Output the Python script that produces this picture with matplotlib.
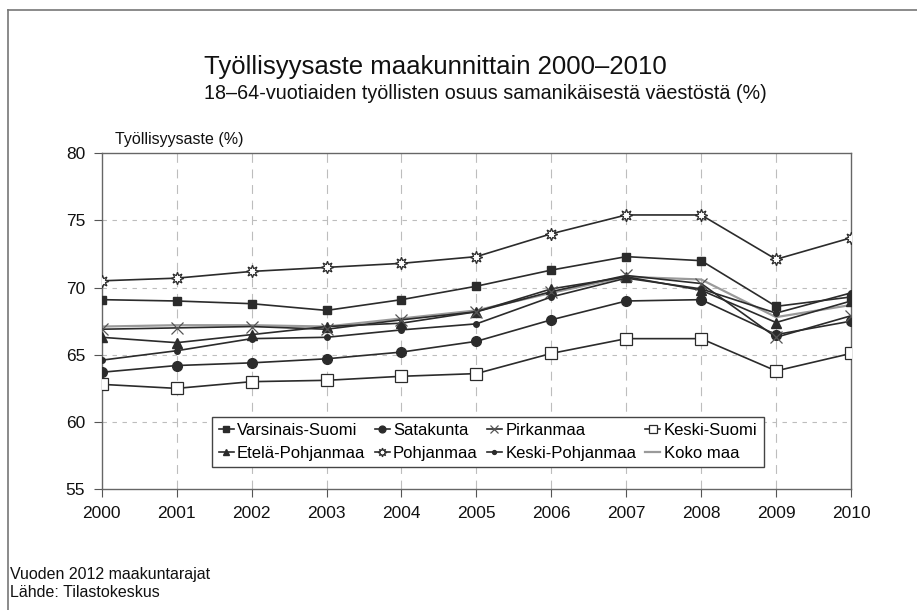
import matplotlib.pyplot as plt
from matplotlib.lines import Line2D

plt.rcParams['font.family'] = ['Liberation Sans', 'DejaVu Sans']

years = list(range(2000, 2011))

varsinais_suomi = [69.1, 69.0, 68.8, 68.3, 69.1, 70.1, 71.3, 72.3, 72.0, 68.6, 69.3]
satakunta = [63.7, 64.2, 64.4, 64.7, 65.2, 66.0, 67.6, 69.0, 69.1, 66.5, 67.5]
pirkanmaa = [66.9, 67.0, 67.1, 66.9, 67.6, 68.2, 69.7, 70.9, 70.3, 66.3, 67.9]
keski_suomi = [62.8, 62.5, 63.0, 63.1, 63.4, 63.6, 65.1, 66.2, 66.2, 63.8, 65.1]
etela_pohjanmaa = [66.3, 65.9, 66.5, 67.1, 67.35, 68.2, 69.9, 70.8, 69.8, 67.4, 69.0]
pohjanmaa = [70.5, 70.7, 71.2, 71.5, 71.8, 72.3, 74.0, 75.4, 75.4, 72.1, 73.7]
keski_pohjanmaa = [64.6, 65.3, 66.2, 66.3, 66.85, 67.3, 69.3, 70.7, 69.9, 68.1, 69.6]
koko_maa = [67.1, 67.2, 67.2, 67.1, 67.7, 68.3, 69.6, 70.8, 70.6, 67.8, 68.7]

y_ticks = [55, 60, 65, 70, 75, 80]

fig = plt.figure(figsize=(9.17, 6.1), dpi=100)
ax = fig.add_axes([0.111, 0.198, 0.817, 0.551])

dark = '#2b2b2b'
series = [
    ('Varsinais-Suomi', varsinais_suomi, dict(marker='s', ms=5.5, mfc=dark)),
    ('Etelä-Pohjanmaa', etela_pohjanmaa, dict(marker='^', ms=6.5, mfc=dark)),
    ('Satakunta', satakunta, dict(marker='o', ms=7, mfc=dark)),
    ('Pohjanmaa', pohjanmaa, dict(marker=(8, 1, 0), ms=9, mfc='white', mew=0.9)),
    ('Pirkanmaa', pirkanmaa, dict(marker='x', ms=8, mew=0.9, mec='#555555')),
    ('Keski-Pohjanmaa', keski_pohjanmaa, dict(marker='o', ms=4, mfc=dark)),
    ('Keski-Suomi', keski_suomi, dict(marker='s', ms=8, mfc='white', mew=0.9)),
]

# national average drawn first, as a plain grey line
ax.plot(years, koko_maa, color='#9a9a9a', lw=1.6, zorder=2)
handles = {}
for name, vals, style in series:
    kw = dict(color=dark, lw=1.2, mec=style.pop('mec', dark), zorder=3)
    kw.update(style)
    line, = ax.plot(years, vals, **kw)
    handles[name] = line
handles['Koko maa'] = Line2D([], [], color='#9a9a9a', lw=1.6)

ax.set_xlim(2000, 2010)
ax.set_ylim(55, 80)
ax.set_xticks(years)
ax.set_yticks(y_ticks)
ax.tick_params(axis='both', labelsize=12.5, direction='out', length=6,
               color='#555555', labelcolor='#111111', pad=6)

for y in y_ticks[1:-1]:
    ax.axhline(y, color='#bdbdbd', lw=0.8, ls=(0, (4, 5)), zorder=1)
for x in years[1:-1]:
    ax.axvline(x, color='#bdbdbd', lw=0.8, ls=(0, (8, 6)), zorder=1)

for side in ax.spines.values():
    side.set_color('#666666')
    side.set_linewidth(1.0)

order = ['Varsinais-Suomi', 'Etelä-Pohjanmaa', 'Satakunta', 'Pohjanmaa',
         'Pirkanmaa', 'Keski-Pohjanmaa', 'Keski-Suomi', 'Koko maa']
leg = ax.legend([handles[k] for k in order], order, ncol=4, loc='lower left',
                bbox_to_anchor=(0.136, 0.04), fontsize=12, handlelength=0.9,
                handletextpad=0.2, columnspacing=0.55, borderpad=0.4,
                labelspacing=0.45, fancybox=False, framealpha=1,
                edgecolor='#444444', markerscale=0.7)
leg.get_frame().set_linewidth(1.0)

fig.text(0.222, 0.89, 'Työllisyysaste maakunnittain 2000–2010', fontsize=18.5,
         va='center', color='#111111')
fig.text(0.222, 0.847, '18–64-vuotiaiden työllisten osuus samanikäisestä väestöstä (%)',
         fontsize=14.2, va='center', color='#111111')
fig.text(0.125, 0.772, 'Työllisyysaste (%)', fontsize=11.5, va='center', color='#111111')

fig.text(0.011, 0.058, 'Vuoden 2012 maakuntarajat', fontsize=11.5, va='center', color='#111111')
fig.text(0.011, 0.028, 'Lähde: Tilastokeskus', fontsize=11.5, va='center', color='#111111')

# outer frame along the top and left edge
fig.add_artist(Line2D([0.009, 1.0], [0.984, 0.984], color='#777777', lw=1.2))
fig.add_artist(Line2D([0.009, 0.009], [0.0, 0.984], color='#777777', lw=1.2))

fig.savefig('out.png', dpi=100)
